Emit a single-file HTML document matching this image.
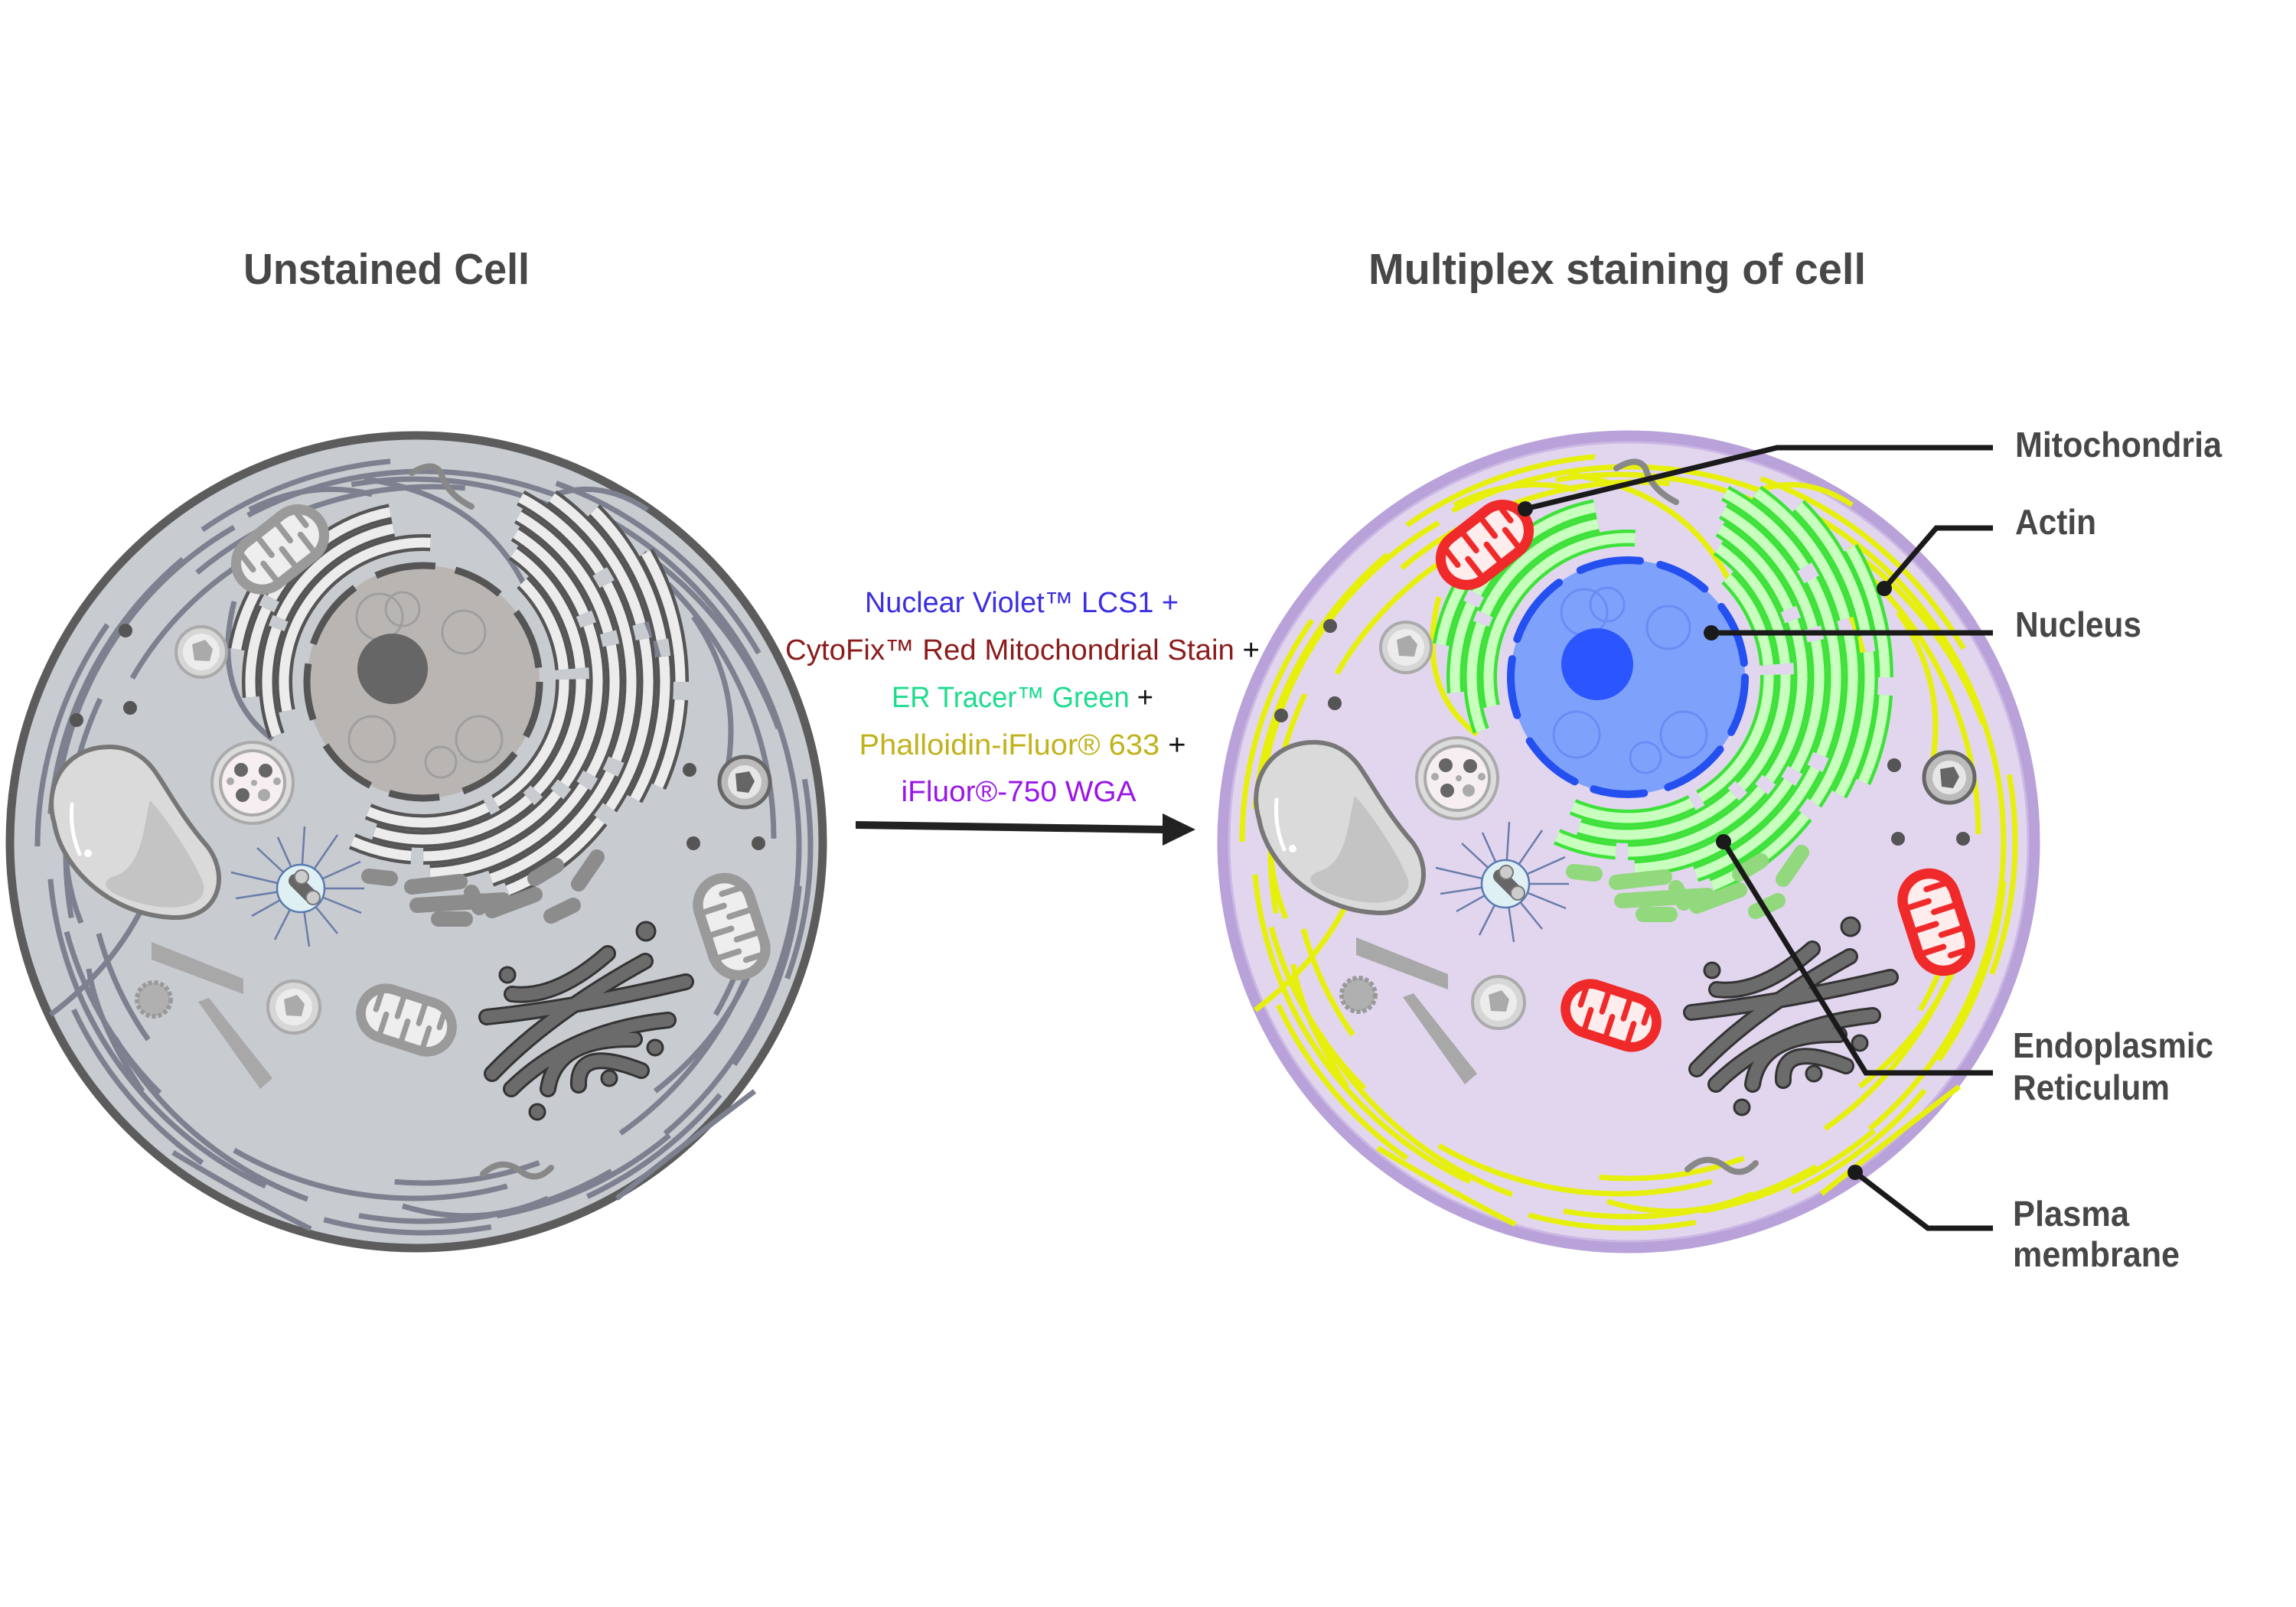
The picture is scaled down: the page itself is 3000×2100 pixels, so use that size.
<!DOCTYPE html>
<html><head><meta charset="utf-8">
<style>
html,body{margin:0;padding:0;background:#fff;}
svg{display:block;}
.mo{fill:var(--mo);}
.mi{fill:var(--mi);}
.mz{stroke:var(--mo);fill:none;stroke-width:7;stroke-linecap:round;}
.ero{fill:none;stroke:var(--ero);stroke-width:22;}
.erf{fill:none;stroke:var(--erf);stroke-width:13;}
.ser{stroke:var(--ser);stroke-width:20;stroke-linecap:round;fill:none;}
.fil{fill:none;stroke:var(--fil);stroke-width:7;}
</style></head>
<body>
<svg width="3000" height="2100" viewBox="0 0 3000 2100" xmlns="http://www.w3.org/2000/svg" font-family="Liberation Sans, Arial, sans-serif">
<defs>
  <g id="mito">
    <rect x="-64" y="-37" width="128" height="74" rx="37" class="mo"/>
    <rect x="-52" y="-25" width="104" height="50" rx="25" class="mi"/>
    <path class="mz" d="M-40,-25v24M-26,25v-24M-12,-25v24M2,25v-24M16,-25v24M30,25v-24M42,-20v16"/>
  </g>
  <g id="erArcs">
    <circle cx="2127" cy="885" r="182" pathLength="360" stroke-dasharray="105 255" transform="rotate(168 2127 885)"/>
    <circle cx="2127" cy="885" r="204" pathLength="360" stroke-dasharray="40 4 55 261" transform="rotate(160 2127 885)"/>
    <circle cx="2127" cy="885" r="226" pathLength="360" stroke-dasharray="30 4 50 276" transform="rotate(175 2127 885)"/>
    <circle cx="2127" cy="885" r="248" pathLength="360" stroke-dasharray="25 335" transform="rotate(190 2127 885)"/>
    <circle cx="2127" cy="885" r="184" pathLength="360" stroke-dasharray="40 4 60 4 50 202" transform="rotate(-45 2127 885)"/>
    <circle cx="2127" cy="885" r="206" pathLength="360" stroke-dasharray="50 4 45 4 60 197" transform="rotate(-55 2127 885)"/>
    <circle cx="2127" cy="885" r="228" pathLength="360" stroke-dasharray="35 4 55 4 50 4 20 188" transform="rotate(-58 2127 885)"/>
    <circle cx="2127" cy="885" r="250" pathLength="360" stroke-dasharray="45 4 40 4 55 212" transform="rotate(-60 2127 885)"/>
    <circle cx="2127" cy="885" r="272" pathLength="360" stroke-dasharray="30 4 50 4 45 227" transform="rotate(-62 2127 885)"/>
    <circle cx="2127" cy="885" r="294" pathLength="360" stroke-dasharray="40 4 45 4 30 237" transform="rotate(-55 2127 885)"/>
    <circle cx="2127" cy="885" r="316" pathLength="360" stroke-dasharray="35 4 35 286" transform="rotate(-45 2127 885)"/>
    <circle cx="2127" cy="885" r="336" pathLength="360" stroke-dasharray="30 4 20 306" transform="rotate(-30 2127 885)"/>
  </g>
  <g id="filaments">
    <circle class="fil" cx="2128" cy="1100" r="490" pathLength="360" stroke-dasharray="50 10 40 15 60 10 45 12 50 8 60 10"/>
    <circle class="fil" cx="2115" cy="1090" r="470" pathLength="360" stroke-dasharray="35 20 45 15 30 25 50 20 40 15 45 20" transform="rotate(20 2115 1090)"/>
    <circle class="fil" cx="2140" cy="1110" r="480" pathLength="360" stroke-dasharray="30 30 40 20 35 25 45 30 35 25 30 15" transform="rotate(50 2140 1110)"/>
    <circle class="fil" cx="2128" cy="1100" r="505" pathLength="360" stroke-dasharray="25 20 30 25 35 20 30 25 40 20 30 20" transform="rotate(80 2128 1100)"/>
    <circle class="fil" cx="2128" cy="1100" r="440" pathLength="360" stroke-dasharray="20 40 25 50 20 45 30 50 25 55" transform="rotate(10 2128 1100)"/>
    <path class="fil" d="M1880,780 Q1850,900 1930,960 M2050,620 Q2200,640 2260,760 M2330,700 Q2420,760 2440,880 M2480,800 Q2550,900 2520,1020 M2560,1250 Q2520,1350 2430,1420 M2290,1560 Q2200,1600 2100,1570 M1760,1420 Q1700,1330 1690,1260 M1680,1000 Q1640,1100 1680,1200 M2300,640 Q2360,620 2420,660 M1800,1500 Q1900,1560 1980,1600 M1640,1320 Q1720,1260 1760,1180 M2560,1420 Q2480,1480 2380,1560 M1900,660 Q1980,620 2060,640"/>
  </g>
  <g id="common">
    <path d="M1717,970 C1660,970 1630,1020 1645,1070 C1655,1130 1720,1190 1800,1193 C1860,1195 1875,1140 1845,1100 C1810,1060 1790,1020 1775,1000 C1760,980 1740,970 1717,970 Z" fill="#dadada" stroke="#777" stroke-width="6"/>
    <path d="M1770,1040 C1790,1060 1830,1120 1840,1150 C1845,1180 1800,1185 1760,1175 C1720,1165 1700,1150 1720,1140 C1760,1130 1760,1080 1770,1040 Z" fill="#c4c4c4"/>
    <path d="M1668,1045 Q1665,1080 1678,1110" stroke="#fff" stroke-width="5" fill="none" stroke-linecap="round"/>
    <circle cx="1689" cy="1109" r="5" fill="#fff"/>
    <circle cx="1904" cy="1017" r="53" fill="#dcdcdc" stroke="#aaa" stroke-width="4"/>
    <circle cx="1904" cy="1017" r="42" fill="#f6eef0" stroke="#aaa" stroke-width="4"/>
    <circle cx="1889" cy="1000" r="9" fill="#666"/><circle cx="1921" cy="1001" r="9" fill="#666"/>
    <circle cx="1891" cy="1033" r="9" fill="#666"/><circle cx="1919" cy="1033" r="8" fill="#aaa"/>
    <circle cx="1875" cy="1015" r="5" fill="#aaa"/><circle cx="1906" cy="1017" r="4" fill="#aaa"/><circle cx="1936" cy="1015" r="5" fill="#aaa"/>
    <circle cx="1837" cy="846" r="33" fill="#d6d6d6" stroke="#aaa" stroke-width="4"/>
    <circle cx="1837" cy="846" r="24" fill="#ececec"/>
    <path d="M1825,836 L1842,830 L1852,842 L1848,858 L1828,857 Z" fill="#aaa"/>
    <circle cx="1958" cy="1310" r="34" fill="#d6d6d6" stroke="#aaa" stroke-width="4"/>
    <circle cx="1958" cy="1310" r="24" fill="#ececec"/>
    <path d="M1945,1300 L1962,1294 L1972,1306 L1968,1322 L1948,1321 Z" fill="#aaa"/>
    <circle cx="2547" cy="1016" r="33" fill="#bbb" stroke="#666" stroke-width="5"/>
    <circle cx="2547" cy="1016" r="22" fill="#e6e6e6"/>
    <path d="M2535,1005 L2553,1002 L2560,1015 L2552,1030 L2537,1028 Z" fill="#666"/>
    <g stroke="#6a7ca8" stroke-width="2.5">
      <line x1="1967" y1="1155" x2="2050" y2="1155"/><line x1="1967" y1="1155" x2="2045" y2="1120"/>
      <line x1="1967" y1="1155" x2="2015" y2="1085"/><line x1="1967" y1="1155" x2="1972" y2="1074"/>
      <line x1="1967" y1="1155" x2="1937" y2="1088"/><line x1="1967" y1="1155" x2="1910" y2="1102"/>
      <line x1="1967" y1="1155" x2="1876" y2="1134"/><line x1="1967" y1="1155" x2="1882" y2="1168"/>
      <line x1="1967" y1="1155" x2="1903" y2="1191"/><line x1="1967" y1="1155" x2="1933" y2="1222"/>
      <line x1="1967" y1="1155" x2="1978" y2="1231"/><line x1="1967" y1="1155" x2="2015" y2="1214"/>
      <line x1="1967" y1="1155" x2="2046" y2="1187"/>
    </g>
    <circle cx="1967" cy="1155" r="31" fill="#dff0f5" stroke="#5a7ab0" stroke-width="2.5"/>
    <line x1="1960" y1="1145" x2="1980" y2="1165" stroke="#666" stroke-width="18" stroke-linecap="round"/>
    <circle cx="1968" cy="1140" r="9" fill="#ccc" stroke="#777" stroke-width="2"/>
    <circle cx="1983" cy="1167" r="9" fill="#ccc" stroke="#777" stroke-width="2"/>
    <polygon points="1772,1225 1892,1273 1892,1293 1772,1248" fill="#a8a8a8"/>
    <polygon points="1833,1303 1847,1298 1930,1403 1914,1417" fill="#a8a8a8"/>
    <circle cx="1775" cy="1300" r="22" fill="#b0b0b0" stroke="#999" stroke-width="6" stroke-dasharray="5 3"/>
    <g fill="#555"><circle cx="1738" cy="818" r="9"/><circle cx="1744" cy="919" r="9"/><circle cx="1674" cy="935" r="9"/>
    <circle cx="2475" cy="1000" r="9"/><circle cx="2480" cy="1096" r="9"/><circle cx="2565" cy="1096" r="9"/></g>
    <path d="M2112,612 Q2140,595 2150,612 Q2158,640 2190,656" stroke="#888" stroke-width="8" fill="none" stroke-linecap="round"/>
    <path d="M2205,1528 Q2230,1505 2255,1525 Q2275,1540 2294,1520" stroke="#888" stroke-width="8" fill="none" stroke-linecap="round"/>
    <g fill="none" stroke-linecap="round">
      <g stroke="#333" stroke-width="22">
        <path d="M2243,1293 Q2300,1300 2368,1240"/><path d="M2210,1323 Q2330,1310 2470,1277"/>
        <path d="M2217,1397 Q2290,1320 2417,1250"/><path d="M2242,1417 Q2320,1340 2447,1327"/>
        <path d="M2290,1417 Q2300,1350 2403,1352"/><path d="M2330,1412 Q2328,1360 2412,1393"/>
      </g>
      <g stroke="#6b6b6b" stroke-width="16">
        <path d="M2243,1293 Q2300,1300 2368,1240"/><path d="M2210,1323 Q2330,1310 2470,1277"/>
        <path d="M2217,1397 Q2290,1320 2417,1250"/><path d="M2242,1417 Q2320,1340 2447,1327"/>
        <path d="M2290,1417 Q2300,1350 2403,1352"/><path d="M2330,1412 Q2328,1360 2412,1393"/>
      </g>
    </g>
    <g fill="#6b6b6b" stroke="#333" stroke-width="3">
      <circle cx="2418" cy="1211" r="12"/><circle cx="2237" cy="1268" r="10"/><circle cx="2430" cy="1363" r="10"/>
      <circle cx="2370" cy="1403" r="10"/><circle cx="2276" cy="1447" r="10"/>
    </g>
    <path class="ser" d="M2056,1139 L2084,1142 M2112,1153 L2175,1146 M2119,1177 L2231,1170 M2147,1195 L2182,1195 M2217,1184 L2273,1163 M2330,1149 L2354,1114 M2294,1191 L2323,1177 M2273,1142 L2301,1125 M2190,1160 L2200,1180"/>
    <use href="#mito" transform="translate(1940,712) rotate(-38) scale(1.1)"/>
    <use href="#mito" transform="translate(2105,1327) rotate(18) scale(1.05)"/>
    <use href="#mito" transform="translate(2530,1205) rotate(72) scale(1.12)"/>
  </g>
</defs>

<text x="318" y="371" font-size="57" font-weight="bold" fill="#474747" textLength="374" lengthAdjust="spacingAndGlyphs">Unstained Cell</text>
<text x="1788" y="371" font-size="57" font-weight="bold" fill="#474747" textLength="650" lengthAdjust="spacingAndGlyphs">Multiplex staining of cell</text>

<circle cx="544" cy="1100" r="531" fill="#c8cbcf" stroke="#5c5c5c" stroke-width="11"/>
<g transform="translate(-1574,6)">
  <g style="--fil:#7c808f"><use href="#filaments"/></g>
  <circle cx="2127" cy="885" r="152" fill="#b9b5b3"/>
  <circle cx="2127" cy="885" r="152" fill="none" stroke="#555" stroke-width="9" pathLength="360" stroke-dasharray="28 10 32 12 25 10 30 14 28 10 35 12 30 10 25 12 30 17"/>
  <g fill="none" stroke="#999" stroke-width="3" opacity="0.8">
    <circle cx="2070" cy="800" r="30"/><circle cx="2100" cy="790" r="22"/><circle cx="2180" cy="820" r="28"/>
    <circle cx="2060" cy="960" r="30"/><circle cx="2200" cy="960" r="30"/><circle cx="2150" cy="990" r="20"/>
  </g>
  <circle cx="2087" cy="868" r="46" fill="#666"/>
  <g style="--ero:#555;--erf:#ececec">
    <g class="ero"><use href="#erArcs"/></g>
    <g class="erf"><use href="#erArcs"/></g>
  </g>
  <g style="--mo:#9a9a9a;--mi:#eeeeee;--ser:#8c8c8c"><use href="#common"/></g>
</g>

<circle cx="2128" cy="1100" r="530" fill="#e2d6ef" stroke="#b9a2d9" stroke-width="15"/>
<circle cx="2128" cy="1100" r="522" fill="none" stroke="#ccb8e4" stroke-width="3"/>
<g style="--fil:#e6f00c"><use href="#filaments"/></g>
<g style="--ero:#3fe23a;--erf:#c8ffbe">
  <g class="ero"><use href="#erArcs"/></g>
  <g class="erf"><use href="#erArcs"/></g>
</g>
<circle cx="2127" cy="885" r="153" fill="#7ea2fb"/>
<g fill="none" stroke="#6a8cf5" stroke-width="3">
  <circle cx="2070" cy="800" r="30"/><circle cx="2100" cy="790" r="22"/><circle cx="2180" cy="820" r="28"/>
  <circle cx="2060" cy="960" r="30"/><circle cx="2200" cy="960" r="30"/><circle cx="2150" cy="990" r="20"/>
</g>
<circle cx="2127" cy="885" r="153" fill="none" stroke="#2450f0" stroke-width="10" stroke-linecap="round" pathLength="360" stroke-dasharray="28 10 32 12 25 10 30 14 28 10 35 12 30 10 25 12 30 17"/>
<circle cx="2087" cy="868" r="47" fill="#2a55ff"/>
<g style="--mo:#f02a2a;--mi:#ffecec;--ser:#92d87c"><use href="#common"/></g>

<polygon points="1118,1073 1519,1079 1519,1089 1118,1083" fill="#222"/>
<polygon points="1519,1063 1562,1084 1519,1105" fill="#222"/>

<g font-size="38" text-anchor="middle">
  <text x="1335" y="800" fill="#3b2fe0" textLength="410" lengthAdjust="spacingAndGlyphs">Nuclear Violet™ LCS1 +</text>
  <text x="1336" y="862" textLength="620" lengthAdjust="spacingAndGlyphs"><tspan fill="#8b1c1c">CytoFix™ Red Mitochondrial Stain</tspan><tspan fill="#111"> +</tspan></text>
  <text x="1336" y="924" textLength="342" lengthAdjust="spacingAndGlyphs"><tspan fill="#1ddc8e">ER Tracer™ Green</tspan><tspan fill="#111"> +</tspan></text>
  <text x="1336" y="986" textLength="427" lengthAdjust="spacingAndGlyphs"><tspan fill="#c0b21a">Phalloidin-iFluor® 633</tspan><tspan fill="#111"> +</tspan></text>
  <text x="1331" y="1047" fill="#9a16e8" textLength="307" lengthAdjust="spacingAndGlyphs">iFluor®-750 WGA</text>
</g>

<g stroke="#1a1a1a" stroke-width="7" fill="none">
  <polyline points="2604,585 2322,585 1993,665"/>
  <polyline points="2604,690 2530,690 2462,769"/>
  <polyline points="2604,827 2236,827"/>
  <polyline points="2604,1402 2438,1402 2252,1100"/>
  <polyline points="2604,1605 2519,1605 2424,1532"/>
</g>
<g fill="#1a1a1a">
  <circle cx="1993" cy="665" r="10"/><circle cx="2462" cy="769" r="10"/><circle cx="2236" cy="827" r="10"/>
  <circle cx="2252" cy="1100" r="10"/><circle cx="2424" cy="1532" r="10"/>
</g>

<g font-size="46" font-weight="bold" fill="#474747">
  <text x="2633" y="597" textLength="270" lengthAdjust="spacingAndGlyphs">Mitochondria</text>
  <text x="2633" y="698" textLength="106" lengthAdjust="spacingAndGlyphs">Actin</text>
  <text x="2633" y="832" textLength="165" lengthAdjust="spacingAndGlyphs">Nucleus</text>
  <text x="2630" y="1382" textLength="262" lengthAdjust="spacingAndGlyphs">Endoplasmic</text>
  <text x="2630" y="1437" textLength="205" lengthAdjust="spacingAndGlyphs">Reticulum</text>
  <text x="2630" y="1602" textLength="152" lengthAdjust="spacingAndGlyphs">Plasma</text>
  <text x="2630" y="1655" textLength="218" lengthAdjust="spacingAndGlyphs">membrane</text>
</g>
</svg>
</body></html>
